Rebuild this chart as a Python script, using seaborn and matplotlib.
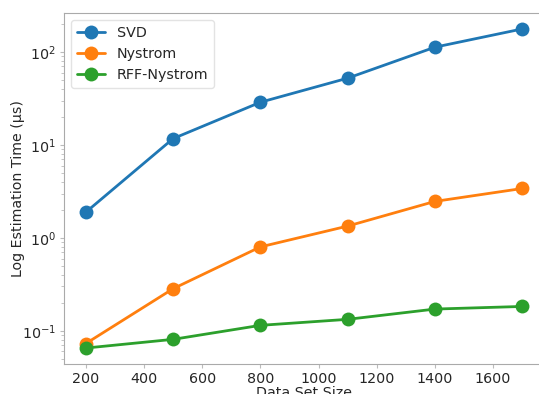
import matplotlib
matplotlib.use("Agg")
import matplotlib.pyplot as plt
import seaborn as sns
import pandas as pd

sizes = [200, 500, 800, 1100, 1400, 1700]
svd = [1.89, 11.7, 28.8, 52.3, 112.7, 177]
nystrom = [0.073, 0.284, 0.80, 1.34, 2.47, 3.40]
rff_nystrom = [0.0653, 0.081, 0.1146, 0.133, 0.1715, 0.183]
methods = ["SVD", "Nystrom", "RFF-Nystrom"]

rows = []
for m, vals in zip(methods, [svd, nystrom, rff_nystrom]):
    for s, v in zip(sizes, vals):
        rows.append({"size": s, "time": v, "method": m})
df = pd.DataFrame(rows)

sns.set_style("white")
plt.rcParams['font.family'] = ['DejaVu Sans']

fig = plt.figure(figsize=(5.39, 3.94), dpi=100)
ax = fig.add_axes([64/539, 30/394, 480/539, 351/394])
sns.lineplot(data=df, x="size", y="time", hue="method", marker="o",
             palette=["#1f77b4", "#ff7f0e", "#2ca02c"], markersize=10,
             markeredgewidth=0, linewidth=2, ax=ax)
ax.set_yscale("log")
ax.set_xticks([200, 400, 600, 800, 1000, 1200, 1400, 1600])
ax.tick_params(which="both", left=True, bottom=True, color="#bbbbbb",
               labelsize=10.3, pad=3)
ax.tick_params(which="major", length=3, width=0.8)
ax.tick_params(which="minor", length=2, width=0.6)
ax.set_xlabel("Data Set Size", fontsize=10.3, labelpad=0)
ax.set_ylabel("Log Estimation Time (μs)", fontsize=10.2)
ax.yaxis.set_label_coords(-0.081, 0.5)
for sp in ax.spines.values():
    sp.set_color("#aaaaaa")
leg = ax.legend(loc="upper left", fontsize=10.3, frameon=True, handlelength=2)
leg.get_frame().set_edgecolor("#dddddd")
fig.savefig("out.png", dpi=100)
